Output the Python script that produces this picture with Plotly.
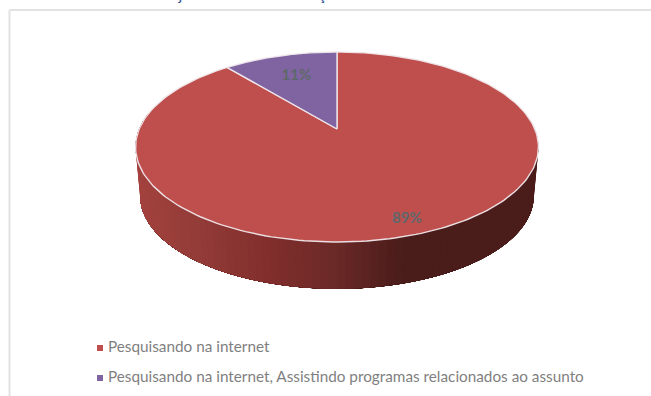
import numpy as np
import plotly.graph_objects as go

categories = ["Pesquisando na internet",
              "Pesquisando na internet, Assistindo programas relacionados ao assunto"]
values = [89, 11]
colors = ["#BE4F4C", "#8064A2"]
title_text = "Objetivos de conceituação na busca de conteúdos"

W, H = 651, 396
CX, AY = 337.0, 129.0
K, A, B = 0.1895, 197.8, 91.6
ECY, S, BCY = 147.0, 0.977, 196.0


def project(theta, r=1.0):
    """theta: degrees clockwise from the top of the disc."""
    t = np.radians(theta)
    X, Y = r * np.sin(t), r * np.cos(t)
    d = 1 + K * Y
    return CX + A * X / d, AY - B * Y / d


def hex2rgb(h):
    return [int(h[i:i + 2], 16) for i in (1, 3, 5)]


stops_x = [140, 200, 270, 337, 405, 535]
stops_c = [hex2rgb(c) for c in ["#A3423E", "#933C38", "#822F2D", "#6C2A28", "#4B1D1B", "#4A1C1A"]]


def side_color(x):
    return "rgb(%d,%d,%d)" % tuple(np.interp(x, stops_x, [c[i] for c in stops_c]) for i in range(3))


fig = go.Figure()

total = sum(values)
sweep = [v / total * 360 for v in values]
start_red = 0.0
end_red = sweep[0]
start_purple = end_red
end_purple = 360.0

# Body of the pie: painted right to left, each piece running to the far left end,
# so that neighbouring colours leave no seams
END = 280.0
for a0 in np.linspace(80, 276, 99):
    ang = np.linspace(a0, END, 60)
    x, y = project(ang)
    bx, by = CX + S * (x - CX), BCY + S * (y - ECY)
    c = side_color(project(a0)[0])
    fig.add_trace(go.Scatter(x=np.r_[x, bx[::-1], x[0]], y=np.r_[y, by[::-1], y[0]],
                             mode="lines", fill="toself", fillcolor=c,
                             line=dict(width=0), hoverinfo="skip", showlegend=False))

# Top faces
rim = "rgba(240,232,236,0.95)"
for start, end, col in [(start_red, end_red, colors[0]), (start_purple, end_purple, colors[1])]:
    ang = np.linspace(start, end, 240)
    ex, ey = project(ang)
    fig.add_trace(go.Scatter(x=np.r_[CX, ex, CX], y=np.r_[AY, ey, AY], mode="lines", fill="toself",
                             fillcolor=col, line=dict(color=rim, width=1.4),
                             hoverinfo="skip", showlegend=False))

# Data labels
label_r = [0.88, 0.68]
mids = [(start_red + end_red) / 2, (start_purple + end_purple) / 2]
lx, ly = zip(*[project(m, r) for m, r in zip(mids, label_r)])
fig.add_trace(go.Scatter(x=list(lx), y=list(ly), mode="text",
                         text=[f"{v}%" for v in values],
                         textfont=dict(family="Lato", size=15, color="#5E686C", weight=700),
                         hoverinfo="skip", showlegend=False))

# Legend
fig.add_trace(go.Scatter(x=[100, 100], y=[348, 378], mode="markers",
                         marker=dict(symbol="square", size=6, color=colors),
                         hoverinfo="skip", showlegend=False))
fig.add_trace(go.Scatter(x=[108, 108], y=[348, 378], mode="text",
                         text=categories, textposition="middle right",
                         textfont=dict(family="Lato", size=15.3, color="#7F7F7F"),
                         hoverinfo="skip", showlegend=False))

# Title, cut by the top edge of the picture as in the reference
fig.add_annotation(x=332, y=5, xref="x", yref="y", text=title_text, showarrow=False,
                   yanchor="bottom", xanchor="center",
                   font=dict(family="Lato", size=16, color="#2F5597"))

# Chart frame
fig.add_shape(type="line", x0=9.5, x1=W, y0=10, y1=10, line=dict(color="#E2E2E2", width=2))
fig.add_shape(type="line", x0=9.5, x1=9.5, y0=10, y1=H, line=dict(color="#E2E2E2", width=2))

fig.update_layout(width=W, height=H, margin=dict(l=0, r=0, t=0, b=0),
                  paper_bgcolor="white", plot_bgcolor="white", showlegend=False,
                  xaxis=dict(range=[0, W], visible=False, fixedrange=True),
                  yaxis=dict(range=[H, 0], visible=False, fixedrange=True))
fig.write_html("out.html", config=dict(displayModeBar=False),
               post_script="document.body.style.margin='0';document.body.style.overflow='hidden';")
